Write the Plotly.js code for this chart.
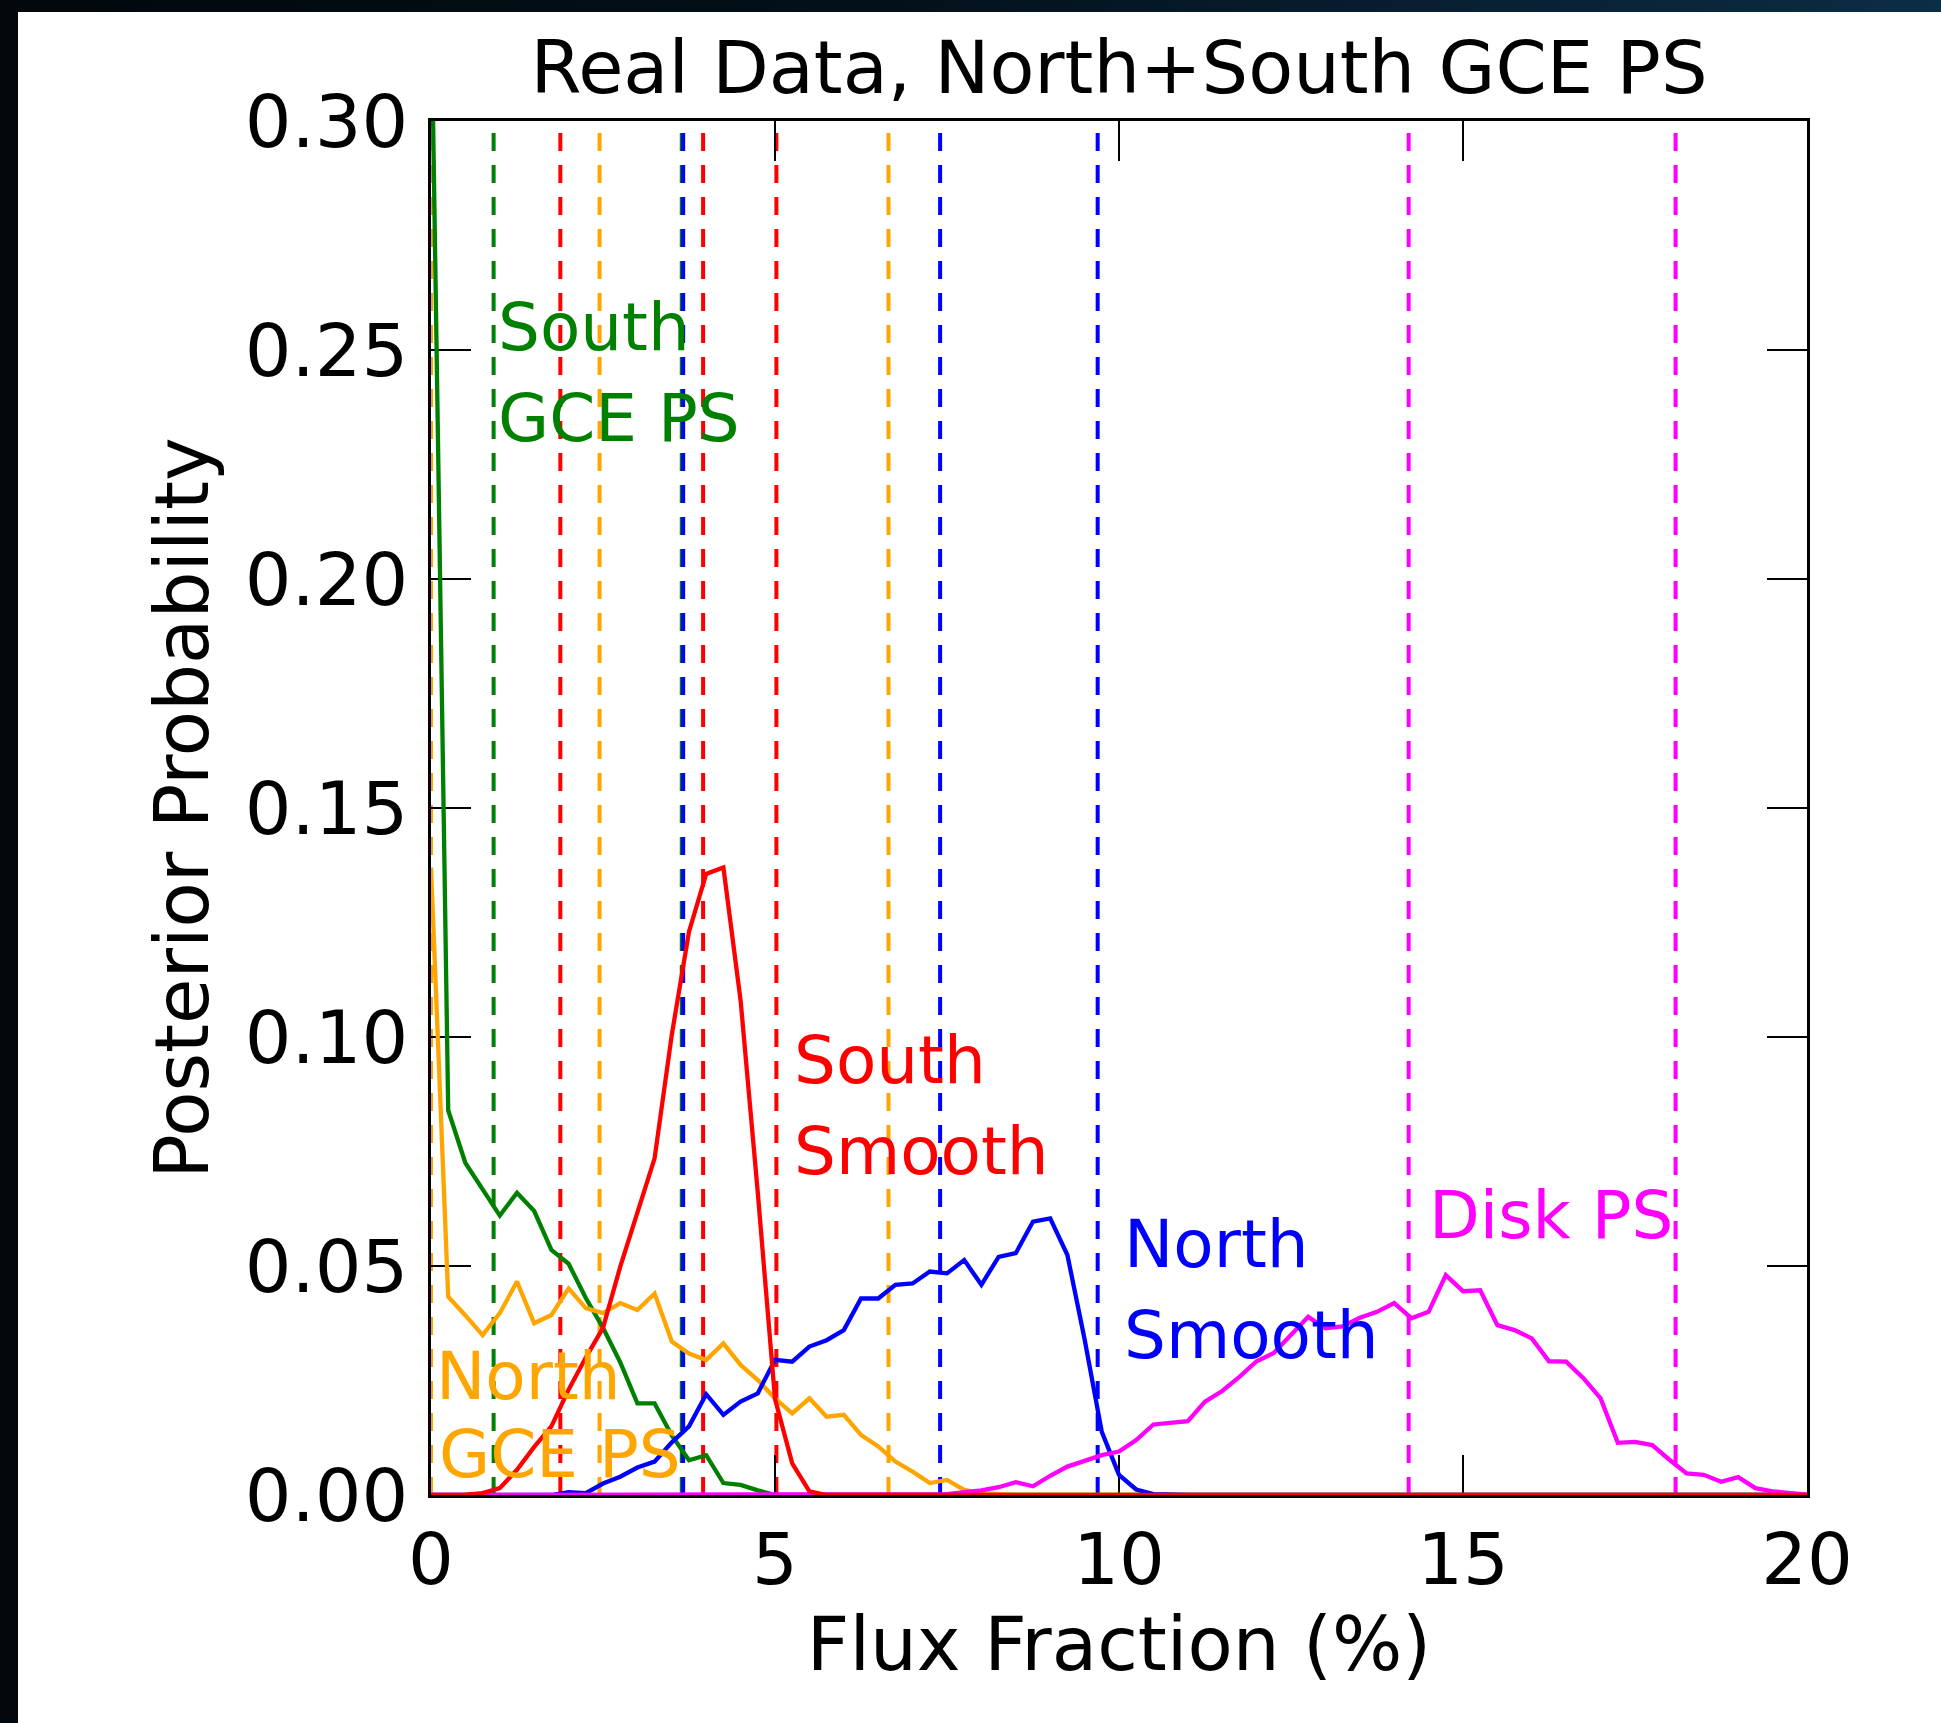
<!DOCTYPE html>
<html>
<head>
<meta charset="utf-8">
<script src="https://cdn.plot.ly/plotly-3.0.1.min.js"></script>
<style>
  html, body { margin:0; padding:0; }
  body {
    width:1941px; height:1723px; overflow:hidden;
    background: linear-gradient(90deg, #02080c 0%, #03101a 45%, #0b2d45 100%);
    position:relative;
  }
  #plot { position:absolute; left:18px; top:12px; width:1923px; height:1711px; background:#ffffff; }
</style>
</head>
<body>
<div id="plot"></div>
<script>
// Flux fraction grid (%)
const fluxFraction = [0,0.25,0.5,0.75,1,1.25,1.5,1.75,2,2.25,2.5,2.75,3,3.25,3.5,3.75,4,4.25,4.5,4.75,
  5,5.25,5.5,5.75,6,6.25,6.5,6.75,7,7.25,7.5,7.75,8,8.25,8.5,8.75,9,9.25,9.5,9.75,
  10,10.25,10.5,10.75,11,11.25,11.5,11.75,12,12.25,12.5,12.75,13,13.25,13.5,13.75,14,14.25,14.5,14.75,
  15,15.25,15.5,15.75,16,16.25,16.5,16.75,17,17.25,17.5,17.75,18,18.25,18.5,18.75,19,19.25,19.5,19.75,20];

// Posterior probabilities
const southGcePs = [0.33,0.084,0.0725,0.0668,0.061,0.066,0.062,0.0535,0.0505,0.043,0.0365,0.029,0.020,0.020,0.013,0.0076,0.0087,0.0026,0.0022,0.001,
  0,0,0,0,0,0,0,0,0,0,0,0,0,0,0,0,0,0,0,0,
  0,0,0,0,0,0,0,0,0,0,0,0,0,0,0,0,0,0,0,0,
  0,0,0,0,0,0,0,0,0,0,0,0,0,0,0,0,0,0,0,0,0];

const northGcePs = [0.137,0.0433,0.0392,0.0349,0.0397,0.0466,0.0375,0.0393,0.0451,0.0408,0.0397,0.0419,0.0404,0.0440,0.0335,0.0309,0.0295,0.0331,0.0284,0.0251,
  0.0211,0.0178,0.0211,0.0171,0.0175,0.0131,0.0106,0.0073,0.0051,0.0026,0.0033,0.0011,0.0004,0.0001,0,0,0,0,0,0,
  0,0,0,0,0,0,0,0,0,0,0,0,0,0,0,0,0,0,0,0,
  0,0,0,0,0,0,0,0,0,0,0,0,0,0,0,0,0,0,0,0,0];

const southSmooth = [0,0,0.0001,0.0004,0.0015,0.0055,0.0105,0.015,0.023,0.030,0.0365,0.0498,0.062,0.0735,0.1005,0.123,0.1356,0.137,0.108,0.066,
  0.021,0.0069,0.0008,0,0,0,0,0,0,0,0,0,0,0,0,0,0,0,0,0,
  0,0,0,0,0,0,0,0,0,0,0,0,0,0,0,0,0,0,0,0,
  0,0,0,0,0,0,0,0,0,0,0,0,0,0,0,0,0,0,0,0,0];

const northSmooth = [0,0,0,0,0,0,0,0,0.0006,0.0004,0.0025,0.004,0.006,0.0073,0.0115,0.015,0.022,0.0175,0.0204,0.0222,
  0.0295,0.0291,0.0324,0.0338,0.036,0.0429,0.0429,0.0459,0.0462,0.0488,0.0484,0.0513,0.0459,0.052,0.0528,0.0597,0.0604,0.0524,0.034,0.0138,
  0.0044,0.0012,0.0002,0,0,0,0,0,0,0,0,0,0,0,0,0,0,0,0,0,
  0,0,0,0,0,0,0,0,0,0,0,0,0,0,0,0,0,0,0,0,0];

const diskPs = [0,0,0,0,0,0,0,0,0,0,0,0,0,0,0,0,0,0,0,0,
  0,0,0,0,0,0,0,0,0,0,0.0002,0.0006,0.001,0.0017,0.0028,0.0019,0.0042,0.0062,0.0075,0.0087,
  0.0095,0.012,0.0154,0.0158,0.0161,0.0204,0.0227,0.0258,0.0292,0.031,0.035,0.0389,0.0364,0.0368,0.0387,0.040,0.0419,0.0386,0.040,0.048,
  0.0445,0.0447,0.0371,0.036,0.0342,0.0292,0.0291,0.0255,0.0211,0.0114,0.0116,0.0109,0.0077,0.0047,0.0044,0.0029,0.0039,0.0015,0.0008,0.0005,0.0001];

// Dashed vertical marker positions (flux fraction, %)
const southGceLines = [0, 0.91, 3.645];
const northGceLines = [0, 2.45, 6.65];
const southSmoothLines = [1.88, 3.955, 5.02];
const northSmoothLines = [3.665, 7.40, 9.69];
const diskLines = [14.21, 18.09];

// Tick labels
const xTicks = [0, 5, 10, 15, 20];
const xTickText = ['0', '5', '10', '15', '20'];
const yTicks = [0, 0.05, 0.10, 0.15, 0.20, 0.25, 0.30];
const yTickText = ['0.00', '0.05', '0.10', '0.15', '0.20', '0.25', '0.30'];

const FONT = 'DejaVu Sans';
const C = {green:'#008000', orange:'#FFA500', red:'#FF0000', blue:'#0000FF', magenta:'#FF00FF'};

function curve(y, color, name) {
  return {x: fluxFraction, y: y, type:'scatter', mode:'lines', name: name,
          line:{color: color, width:4.3}, hoverinfo:'skip'};
}
const traces = [
  curve(southGcePs, C.green, 'South GCE PS'),
  curve(northGcePs, C.orange, 'North GCE PS'),
  curve(northSmooth, C.blue, 'North Smooth'),
  curve(diskPs, C.magenta, 'Disk PS'),
  curve(southSmooth, C.red, 'South Smooth')
];

function vlines(arr, color) {
  return arr.map(v => ({type:'line', xref:'x', yref:'paper', x0:v, x1:v, y0:0, y1:1,
    layer:'below', line:{color:color, width:4, dash:'18px,14px'}}));
}
const shapes = [].concat(
  vlines(southGceLines, C.green),
  vlines(northGceLines, C.orange),
  vlines(southSmoothLines, C.red),
  vlines(northSmoothLines, C.blue),
  vlines(diskLines, C.magenta)
);

function label(text, x, y, color) {
  return {text:text, x:x, y:y, xref:'x', yref:'y', xanchor:'left', yanchor:'middle',
          showarrow:false, font:{family:FONT, size:66, color:color}};
}
const annotations = [
  label('South', 0.942, 0.2550, C.green),
  label('GCE PS', 0.942, 0.2350, C.green),
  label('South', 5.249, 0.0949, C.red),
  label('Smooth', 5.249, 0.0749, C.red),
  label('North', 10.04, 0.0548, C.blue),
  label('Smooth', 10.05, 0.0348, C.blue),
  label('North', 0.04, 0.02587, C.orange),
  label('GCE PS', 0.08, 0.00884, C.orange),
  label('Disk PS', 14.48, 0.0611, C.magenta)
];

const axisCommon = {
  showline:true, linewidth:3, linecolor:'#000000', mirror:'ticks',
  ticks:'inside', ticklen:40, tickwidth:2.5, tickcolor:'#000000',
  showgrid:false, zeroline:false, layer:'below traces'
};

const layout = {
  width:1923, height:1711,
  margin:{l:413, r:134, t:109, b:228, pad:0},
  paper_bgcolor:'#ffffff', plot_bgcolor:'#ffffff',
  showlegend:false,
  font:{family:FONT, color:'#000000'},
  title:{text:'Real Data, North+South GCE PS', font:{family:FONT, size:73.5, color:'#000000'},
         x:0.5, xref:'paper', xanchor:'center', y:1-55.4/1711, yref:'container', yanchor:'middle'},
  xaxis: Object.assign({}, axisCommon, {range:[0,20], tickvals:xTicks, ticktext:xTickText,
    tickfont:{family:FONT, size:72, color:'#000000'},
    title:{text:'Flux Fraction (%)', font:{family:FONT, size:74, color:'#000000'}, standoff:14}}),
  yaxis: Object.assign({}, axisCommon, {range:[0,0.30], tickvals:yTicks, ticktext:yTickText,
    tickfont:{family:FONT, size:73.5, color:'#000000'}, ticklabelstandoff:5,
    title:{text:'Posterior Probability', font:{family:FONT, size:74, color:'#000000'}, standoff:12}}),
  shapes: shapes,
  annotations: annotations
};

Plotly.newPlot('plot', traces, layout, {displayModeBar:false, staticPlot:true});
</script>
</body>
</html>
